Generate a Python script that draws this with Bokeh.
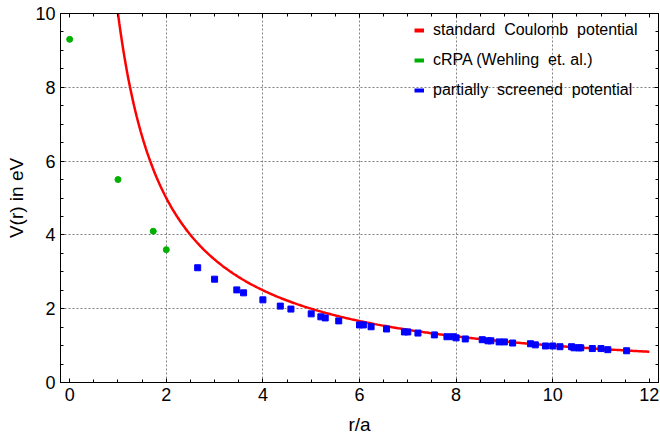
import numpy as np
from bokeh.plotting import figure
from bokeh.models import (LinearAxis, FixedTicker, Legend, LegendItem,
                          Range1d, CustomJSTickFormatter, ColumnDataSource)
from bokeh.embed import file_html
from bokeh.resources import INLINE

# --- data -------------------------------------------------------------
coulomb_prefactor = 10.0          # V(r) = prefactor / r  (eV, r in units of a)
coulomb_r_min = 1.0
coulomb_r_max = 12.0

crpa_r = [0.0, 1.0, 1.73, 2.0]
crpa_v = [9.3, 5.5, 4.1, 3.6]

screened_r = [2.65, 3.0, 3.46, 3.60, 4.0, 4.36, 4.58, 5.0, 5.2, 5.29, 5.57, 6.0, 6.08,
              6.24, 6.56, 6.93, 7.0, 7.21, 7.55, 7.81, 7.94, 8.0, 8.19, 8.54, 8.66,
              8.72, 8.89, 9.0, 9.17, 9.54, 9.64, 9.85, 10.0, 10.15, 10.39, 10.44,
              10.54, 10.58, 10.82, 11.0, 11.14, 11.53]
screened_v = [3.11, 2.80, 2.51, 2.43, 2.24, 2.07, 1.99, 1.86, 1.78, 1.75, 1.67, 1.56, 1.56,
              1.51, 1.45, 1.37, 1.37, 1.34, 1.29, 1.24, 1.24, 1.21, 1.18, 1.16, 1.13,
              1.13, 1.10, 1.10, 1.07, 1.05, 1.02, 0.99, 0.99, 0.97, 0.97, 0.94,
              0.94, 0.94, 0.92, 0.92, 0.89, 0.86]

labels = ["standard  Coulomb  potential", "cRPA (Wehling  et. al.)",
          "partially  screened  potential"]
x_ticks = [0, 2, 4, 6, 8, 10, 12]
y_ticks = [0, 2, 4, 6, 8, 10]

FONT = "Liberation Sans"

coul_r = np.linspace(coulomb_r_min, coulomb_r_max, 400)
coul_v = coulomb_prefactor / coul_r

p = figure(width=660, height=437, output_backend="svg", toolbar_location=None,
           x_range=Range1d(-0.19, 12.19), y_range=Range1d(0, 10),
           min_border_left=60, min_border_right=2, min_border_top=13, min_border_bottom=55)
p.outline_line_color = "black"
p.outline_line_width = 1
p.background_fill_color = "white"
p.border_fill_color = "white"

# grid
p.xgrid.ticker = FixedTicker(ticks=[t for t in x_ticks if 0 < t < 12])
p.ygrid.ticker = FixedTicker(ticks=[t for t in y_ticks if 0 < t < 10])
for g in (p.xgrid, p.ygrid):
    g.grid_line_color = "#808080"
    g.grid_line_dash = "2 2"
    g.grid_line_width = 1

def style_axis(ax, show_labels=True):
    ax.major_tick_in = 4
    ax.major_tick_out = 0
    ax.minor_tick_in = 3
    ax.minor_tick_out = 0
    ax.axis_line_color = "black"
    ax.major_tick_line_color = "black"
    ax.minor_tick_line_color = "black"
    if show_labels:
        ax.major_label_text_font = FONT
        ax.major_label_text_font_size = "18px"
        ax.major_label_text_color = "black"
        ax.major_label_standoff = 5
        ax.axis_label_text_font = FONT
        ax.axis_label_text_font_size = "19px"
        ax.axis_label_text_font_style = "normal"
        ax.axis_label_text_color = "black"
    else:
        ax.formatter = CustomJSTickFormatter(code="return ''")
        ax.major_label_text_font_size = "0px"
        ax.major_label_standoff = 0

p.xaxis.ticker = FixedTicker(ticks=x_ticks, minor_ticks=list(np.arange(0, 12.01, 0.5)))
p.yaxis.ticker = FixedTicker(ticks=y_ticks, minor_ticks=list(np.arange(0, 10.01, 0.5)))
p.xaxis.axis_label = "r/a"
p.yaxis.axis_label = "V(r) in eV"
style_axis(p.xaxis[0])
style_axis(p.yaxis[0])
p.xaxis.axis_label_standoff = 10
p.yaxis.axis_label_standoff = 5

top = LinearAxis(ticker=FixedTicker(ticks=x_ticks, minor_ticks=list(np.arange(0, 12.01, 0.5))))
right = LinearAxis(ticker=FixedTicker(ticks=y_ticks, minor_ticks=list(np.arange(0, 10.01, 0.5))))
style_axis(top, False)
style_axis(right, False)
p.add_layout(top, "above")
p.add_layout(right, "right")

# data glyphs
p.line(coul_r, coul_v, line_color="#ff0000", line_width=2.5)
p.scatter(crpa_r, crpa_v, marker="circle", size=6, fill_color="#00b000", line_color="#00b000")
p.scatter(screened_r, screened_v, marker="square", size=6, fill_color="#0000ff", line_color="#0000ff")

# legend proxies (short thick dashes), placed outside the visible range
proxy = dict(x=[-50, -49], y=[-50, -50])
r1 = p.line("x", "y", source=ColumnDataSource(proxy), line_color="#ff0000", line_width=4)
r2 = p.line("x", "y", source=ColumnDataSource(proxy), line_color="#00b000", line_width=4)
r3 = p.line("x", "y", source=ColumnDataSource(proxy), line_color="#0000ff", line_width=4)

legend = Legend(items=[LegendItem(label=labels[0], renderers=[r1]),
                       LegendItem(label=labels[1], renderers=[r2]),
                       LegendItem(label=labels[2], renderers=[r3])],
                location=(354, 282), padding=0, margin=0, spacing=10,
                glyph_width=10, glyph_height=20, label_height=20, label_standoff=9,
                label_text_font=FONT, label_text_font_size="16px", label_text_color="black",
                border_line_color=None, background_fill_alpha=0)
p.add_layout(legend, "center")

open("out.html", "w").write(file_html(p, INLINE))
